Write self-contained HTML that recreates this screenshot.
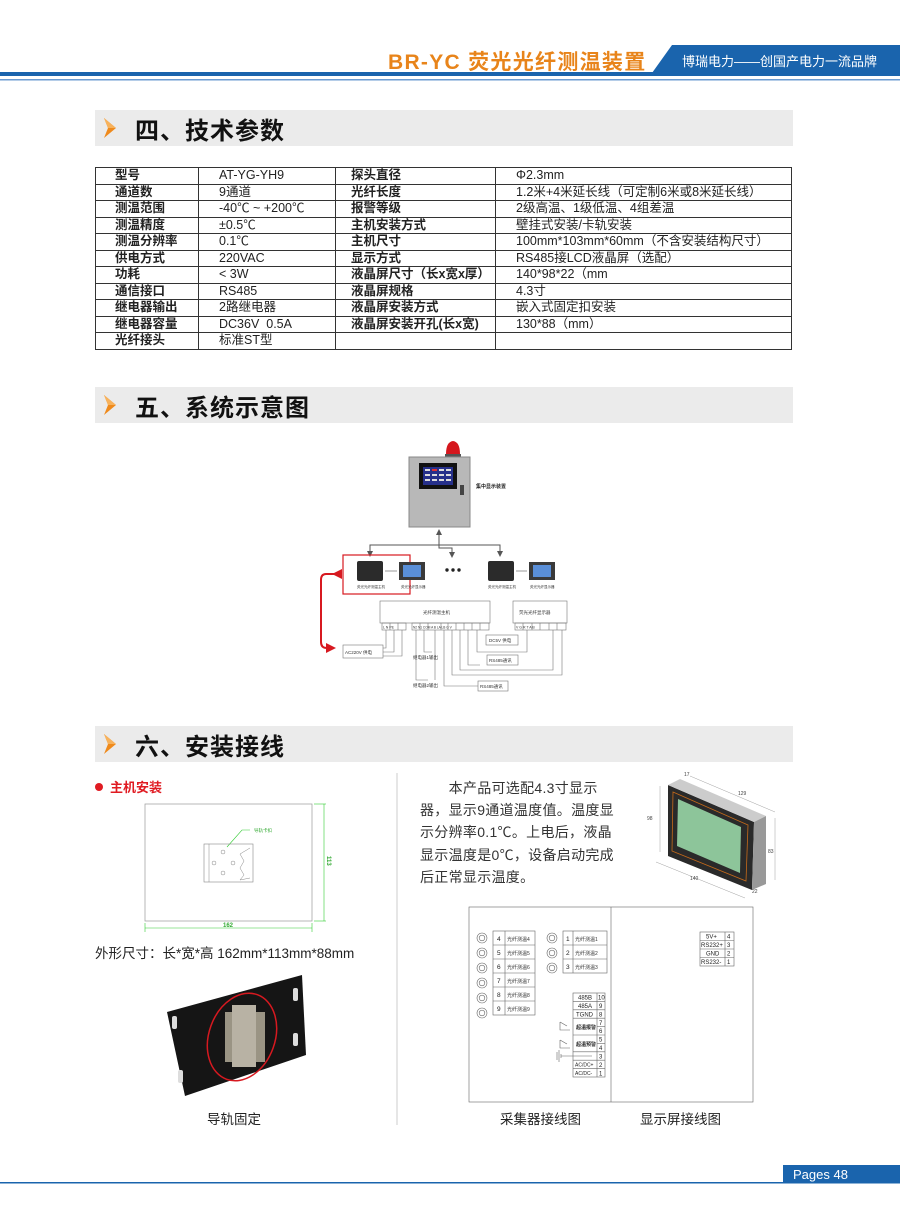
<!DOCTYPE html>
<html><head><meta charset="utf-8"><style>
*{margin:0;padding:0;box-sizing:border-box}
body{width:900px;height:1230px;background:#fff;position:relative;overflow:hidden;font-family:"Liberation Sans","Noto Sans CJK SC",sans-serif;color:#222}
.a{position:absolute;white-space:nowrap}
.bar{position:absolute;left:95px;width:698px;height:36px;background:#ebebeb}
.bar .t{position:absolute;left:40px;top:1px;font-size:24px;font-weight:bold;color:#111;font-family:"Noto Sans CJK SC",sans-serif;letter-spacing:1px}
table{position:absolute;left:95px;top:167px;width:697px;border-collapse:collapse;font-size:12.5px;table-layout:fixed}
td{border:1px solid #333;height:16.5px;padding:0 0 0 20px;color:#222;vertical-align:middle;overflow:hidden;white-space:nowrap}
td div{height:15px;line-height:15px;overflow:hidden}
td.b{font-weight:bold;padding-left:19px}
td.c{font-weight:bold;padding-left:15px}
.p{font-size:14px;color:#333;line-height:22.2px}
</style></head><body>

<div class="a" style="left:388px;top:46px;font-size:21px;font-weight:bold;color:#e8841a;letter-spacing:1.3px;font-family:'Liberation Sans','Noto Sans CJK SC',sans-serif">BR-YC 荧光光纤测温装置</div>
<svg class="a" style="left:0;top:0" width="900" height="90">
<polygon points="672,45 900,45 900,73 652,73" fill="#1a64ad"/>
<rect x="0" y="72" width="900" height="4" fill="#1a64ad"/>
<rect x="0" y="79" width="900" height="1.5" fill="#6b9bd1"/>
</svg>
<div class="a" style="left:682px;top:51px;font-size:13px;color:#fff">博瑞电力——创国产电力一流品牌</div>

<div class="bar" style="top:110px"><svg class="a" style="left:7px;top:7px" width="16" height="22"><polygon points="2,1 14,11 2,21 6,11" fill="#ef8a1c"/><polygon points="2,1 14,11 6,11" fill="#f7b25c"/></svg><div class="t">四、技术参数</div></div>
<div class="bar" style="top:387px"><svg class="a" style="left:7px;top:7px" width="16" height="22"><polygon points="2,1 14,11 2,21 6,11" fill="#ef8a1c"/><polygon points="2,1 14,11 6,11" fill="#f7b25c"/></svg><div class="t">五、系统示意图</div></div>
<div class="bar" style="top:726px"><svg class="a" style="left:7px;top:7px" width="16" height="22"><polygon points="2,1 14,11 2,21 6,11" fill="#ef8a1c"/><polygon points="2,1 14,11 6,11" fill="#f7b25c"/></svg><div class="t">六、安装接线</div></div>

<table>
<colgroup><col style="width:103px"><col style="width:137px"><col style="width:160px"><col></colgroup>
<tr><td class="b"><div>型号</div></td><td><div>AT-YG-YH9</div></td><td class="c"><div>探头直径</div></td><td><div>Φ2.3mm</div></td></tr>
<tr><td class="b"><div>通道数</div></td><td><div>9通道</div></td><td class="c"><div>光纤长度</div></td><td><div>1.2米+4米延长线（可定制6米或8米延长线）</div></td></tr>
<tr><td class="b"><div>测温范围</div></td><td><div>-40℃ ~ +200℃</div></td><td class="c"><div>报警等级</div></td><td><div>2级高温、1级低温、4组差温</div></td></tr>
<tr><td class="b"><div>测温精度</div></td><td><div>±0.5℃</div></td><td class="c"><div>主机安装方式</div></td><td><div>壁挂式安装/卡轨安装</div></td></tr>
<tr><td class="b"><div>测温分辨率</div></td><td><div>0.1℃</div></td><td class="c"><div>主机尺寸</div></td><td><div>100mm*103mm*60mm（不含安装结构尺寸）</div></td></tr>
<tr><td class="b"><div>供电方式</div></td><td><div>220VAC</div></td><td class="c"><div>显示方式</div></td><td><div>RS485接LCD液晶屏（选配）</div></td></tr>
<tr><td class="b"><div>功耗</div></td><td><div>&lt; 3W</div></td><td class="c"><div>液晶屏尺寸（长x宽x厚）</div></td><td><div>140*98*22（mm</div></td></tr>
<tr><td class="b"><div>通信接口</div></td><td><div>RS485</div></td><td class="c"><div>液晶屏规格</div></td><td><div>4.3寸</div></td></tr>
<tr><td class="b"><div>继电器输出</div></td><td><div>2路继电器</div></td><td class="c"><div>液晶屏安装方式</div></td><td><div>嵌入式固定扣安装</div></td></tr>
<tr><td class="b"><div>继电器容量</div></td><td><div>DC36V&nbsp; 0.5A</div></td><td class="c"><div>液晶屏安装开孔(长x宽)</div></td><td><div>130*88（mm）</div></td></tr>
<tr><td class="b"><div>光纤接头</div></td><td><div>标准ST型</div></td><td><div></div></td><td><div></div></td></tr>
</table>

<svg class="a" style="left:0;top:0" width="900" height="1230" font-family="Liberation Sans,Noto Sans CJK SC,sans-serif">
<defs><marker id="ar" markerWidth="6" markerHeight="6" refX="5" refY="3" orient="auto"><path d="M0,0 L6,3 L0,6z" fill="#555"/></marker>
<marker id="rr" markerWidth="5" markerHeight="5" refX="4" refY="2.5" orient="auto"><path d="M0,0 L5,2.5 L0,5z" fill="#d71920"/></marker></defs>
<rect x="445" y="454" width="16" height="5" fill="#555"/>
<path d="M446,454 Q446,442 453,441 Q460,442 460,454z" fill="#d5171d"/>
<rect x="409" y="457" width="61" height="70" fill="#b8b8b8" stroke="#888"/>
<rect x="419" y="463" width="38" height="26" fill="#111"/>
<rect x="423" y="467" width="30" height="18" fill="#26308a"/>
<g fill="#ddd"><rect x="425" y="469" width="5" height="2"/><rect x="432" y="469" width="5" height="2" fill="#d33"/><rect x="439" y="469" width="5" height="2"/><rect x="446" y="469" width="5" height="2"/>
<rect x="425" y="474" width="5" height="2"/><rect x="432" y="474" width="5" height="2"/><rect x="439" y="474" width="5" height="2"/><rect x="446" y="474" width="5" height="2"/>
<rect x="425" y="479" width="5" height="2"/><rect x="432" y="479" width="5" height="2"/><rect x="439" y="479" width="5" height="2"/><rect x="446" y="479" width="5" height="2"/></g>
<rect x="460" y="485" width="4" height="10" fill="#444"/>
<text x="476" y="488" font-size="5" font-weight="bold" fill="#222">集中显示装置</text>
<g stroke="#555" stroke-width="1" fill="none">
<line x1="439" y1="540" x2="439" y2="530" marker-end="url(#ar)"/>
<polyline points="439,540 439,545 370,545 370,556" marker-end="url(#ar)"/>
<polyline points="439,545 500,545 500,556" marker-end="url(#ar)"/>
<polyline points="439,545 439,548 452,548 452,557" marker-end="url(#ar)"/>
</g>
<rect x="343" y="555" width="67" height="39" fill="none" stroke="#d71920" stroke-width="1.2"/>
<rect x="357" y="561" width="26" height="20" fill="#2b2b2b" rx="2"/>
<rect x="399" y="562" width="26" height="18" fill="#3a3a3a"/><rect x="403" y="565" width="18" height="12" fill="#5a8fd8"/>
<rect x="488" y="561" width="26" height="20" fill="#2b2b2b" rx="2"/>
<rect x="529" y="562" width="26" height="18" fill="#3a3a3a"/><rect x="533" y="565" width="18" height="12" fill="#5a8fd8"/>
<line x1="385" y1="571" x2="397" y2="571" stroke="#555" stroke-width="0.6"/><line x1="516" y1="571" x2="527" y2="571" stroke="#555" stroke-width="0.6"/>
<circle cx="447" cy="570" r="1.7" fill="#222"/><circle cx="453" cy="570" r="1.7" fill="#222"/><circle cx="459" cy="570" r="1.7" fill="#222"/>
<g font-size="3.5" fill="#333"><text x="357" y="588">荧光光纤测温主机</text><text x="401" y="588">荧光光纤显示器</text><text x="488" y="588">荧光光纤测温主机</text><text x="530" y="588">荧光光纤显示器</text></g>
<path d="M334,574 L326,574 Q321,574 321,580 L321,642 Q321,648 327,648 L334,648" fill="none" stroke="#d71920" stroke-width="2" marker-start="url(#rr)" marker-end="url(#rr)"/>
<g stroke="#777" stroke-width="0.6" fill="none">
<rect x="380" y="601" width="110" height="22"/>
<rect x="513" y="601" width="54" height="22"/>
<rect x="382" y="623" width="24" height="7"/><line x1="390" y1="623" x2="390" y2="630"/><line x1="398" y1="623" x2="398" y2="630"/>
<rect x="412" y="623" width="77" height="7"/>
<line x1="420" y1="623" x2="420" y2="630"/><line x1="428" y1="623" x2="428" y2="630"/><line x1="441" y1="623" x2="441" y2="630"/><line x1="448" y1="623" x2="448" y2="630"/><line x1="456" y1="623" x2="456" y2="630"/><line x1="464" y1="623" x2="464" y2="630"/><line x1="472" y1="623" x2="472" y2="630"/><line x1="480" y1="623" x2="480" y2="630"/>
<rect x="515" y="623" width="51" height="7"/>
<line x1="523" y1="623" x2="523" y2="630"/><line x1="532" y1="623" x2="532" y2="630"/><line x1="540" y1="623" x2="540" y2="630"/><line x1="549" y1="623" x2="549" y2="630"/><line x1="557" y1="623" x2="557" y2="630"/>
<rect x="343" y="645" width="40" height="13"/>
<polyline points="386,630 386,648 383,648"/><polyline points="394,630 394,652 383,652"/><polyline points="402,630 402,656 383,656"/>
<rect x="486" y="635" width="32" height="10"/><polyline points="477,630 477,652 527,652 527,630"/>
<rect x="487" y="655" width="31" height="10"/><polyline points="468,630 468,665 480,665"/><polyline points="460,630 460,670 553,670 553,630"/>
<polyline points="452,630 452,675 562,675 562,630"/>
<rect x="478" y="681" width="30" height="10"/><polyline points="444,630 444,686 478,686"/>
<polyline points="416,630 416,680 428,680"/><polyline points="424,630 424,652 432,652"/><polyline points="435,630 435,680"/>
</g>
<g font-size="4.5" fill="#333">
<text x="423" y="614">光纤测温主机</text><text x="519" y="614">荧光光纤显示器</text>
<text x="383" y="628.5" font-size="3.5">L  N  PE</text><text x="413" y="628.5" font-size="3.2">N2 N1 COM A  B  LA LB G  V</text>
<text x="516" y="628.5" font-size="3.5">V  G  R  T  A  B</text>
<text x="345" y="654">AC220V 供电</text><text x="489" y="642">DC5V 供电</text><text x="489" y="662">RS485通讯</text><text x="480" y="688">RS485通讯</text>
<text x="413" y="659">继电器1输出</text><text x="413" y="687">继电器2输出</text>
</g>

<circle cx="99" cy="787" r="4" fill="#e01b22"/>
<text x="110" y="792" font-size="13" font-weight="bold" fill="#e01b22">主机安装</text>
<rect x="145" y="804" width="167" height="117" fill="none" stroke="#999" stroke-width="0.7"/>
<g stroke="#3c3" stroke-width="0.6" fill="none"><line x1="314" y1="804" x2="326" y2="804"/><line x1="314" y1="921" x2="326" y2="921"/><line x1="324" y1="804" x2="324" y2="921"/><line x1="145" y1="928" x2="312" y2="928"/><line x1="145" y1="923" x2="145" y2="932"/><line x1="312" y1="923" x2="312" y2="932"/><polyline points="227,847 242,830 250,830"/></g>
<text x="223" y="927" font-size="6" font-weight="bold" fill="#3a3">162</text>
<text x="327" y="856" font-size="6" font-weight="bold" fill="#3a3" transform="rotate(90 327 856)">113</text>
<text x="254" y="832" font-size="4.5" fill="#3a3">导轨卡扣</text>
<rect x="204" y="844" width="49" height="38" fill="none" stroke="#888" stroke-width="0.6"/>
<line x1="209" y1="844" x2="209" y2="882" stroke="#888" stroke-width="0.5"/>
<g fill="none" stroke="#888" stroke-width="0.5"><circle cx="223" cy="852" r="2"/><circle cx="214" cy="863" r="2"/><circle cx="233" cy="863" r="2"/><circle cx="223" cy="873" r="2"/><polyline points="250,848 240,854 244,861 240,868 244,875 240,880 250,878"/></g>
<text x="95" y="958" font-size="13.5" fill="#222">外形尺寸：长*宽*高 162mm*113mm*88mm</text>
<line x1="397" y1="773" x2="397" y2="1125" stroke="#ccc" stroke-width="1"/>
<polygon points="167,1012 302,975 306,1055 185,1096" fill="#151515"/>
<g fill="#ddd"><rect x="172" y="1016" width="5" height="13" rx="2"/><rect x="293" y="988" width="5" height="13" rx="2"/><rect x="293" y="1033" width="5" height="13" rx="2"/><rect x="178" y="1070" width="5" height="13" rx="2"/></g>
<rect x="225" y="1012" width="40" height="50" fill="#9a9484"/>
<rect x="232" y="1005" width="24" height="62" fill="#b8b2a4"/>
<ellipse cx="242" cy="1037" rx="33" ry="45" transform="rotate(20 242 1037)" fill="none" stroke="#d71920" stroke-width="1.5"/>
<text x="207" y="1124" font-size="13.5" fill="#222">导轨固定</text>

<polygon points="668,785 754,822 752,890 668,856" fill="#2a2a2a"/>
<polygon points="668,785 680,779 766,816 754,822" fill="#ccc"/>
<polygon points="754,822 766,816 766,884 752,890" fill="#999"/>
<polygon points="673,792 748,825 746,881 672,851" fill="none" stroke="#c66a1a" stroke-width="0.8"/>
<polygon points="678,799 741,827 740,873 677,846" fill="#8dc59a"/>
<g stroke="#888" stroke-width="0.4" fill="none"><line x1="660" y1="786" x2="660" y2="852"/><line x1="656" y1="862" x2="745" y2="898"/><line x1="690" y1="776" x2="775" y2="812"/><line x1="775" y1="818" x2="775" y2="880"/></g>
<g font-size="5" fill="#444"><text x="647" y="820">98</text><text x="690" y="880">140</text><text x="738" y="795">129</text><text x="684" y="776">17</text><text x="768" y="853">83</text><text x="752" y="893">22</text></g>

<g stroke="#666" stroke-width="0.6" fill="none">
<rect x="469" y="907" width="284" height="195"/><line x1="611" y1="907" x2="611" y2="1102"/>
<rect x="493" y="931" width="42" height="84"/><line x1="505" y1="931" x2="505" y2="1015"/>
<line x1="493" y1="945" x2="535" y2="945"/><line x1="493" y1="959" x2="535" y2="959"/><line x1="493" y1="973" x2="535" y2="973"/><line x1="493" y1="987" x2="535" y2="987"/><line x1="493" y1="1001" x2="535" y2="1001"/>
<rect x="563" y="931" width="44" height="42"/><line x1="573" y1="931" x2="573" y2="973"/><line x1="563" y1="945" x2="607" y2="945"/><line x1="563" y1="959" x2="607" y2="959"/>
<circle cx="482" cy="938" r="5"/><circle cx="482" cy="938" r="2.8"/>
<circle cx="482" cy="953" r="5"/><circle cx="482" cy="953" r="2.8"/>
<circle cx="482" cy="968" r="5"/><circle cx="482" cy="968" r="2.8"/>
<circle cx="482" cy="983" r="5"/><circle cx="482" cy="983" r="2.8"/>
<circle cx="482" cy="998" r="5"/><circle cx="482" cy="998" r="2.8"/>
<circle cx="482" cy="1013" r="5"/><circle cx="482" cy="1013" r="2.8"/>
<circle cx="552" cy="938" r="5"/><circle cx="552" cy="938" r="2.8"/>
<circle cx="552" cy="953" r="5"/><circle cx="552" cy="953" r="2.8"/>
<circle cx="552" cy="968" r="5"/><circle cx="552" cy="968" r="2.8"/>
<rect x="573" y="993" width="32" height="84"/><line x1="597" y1="993" x2="597" y2="1077"/>
<line x1="573" y1="1001.4" x2="605" y2="1001.4"/><line x1="573" y1="1009.8" x2="605" y2="1009.8"/><line x1="573" y1="1018.2" x2="605" y2="1018.2"/><line x1="597" y1="1026.6" x2="605" y2="1026.6"/><line x1="573" y1="1035" x2="605" y2="1035"/><line x1="597" y1="1043.4" x2="605" y2="1043.4"/><line x1="573" y1="1051.8" x2="605" y2="1051.8"/><line x1="573" y1="1060.2" x2="605" y2="1060.2"/><line x1="573" y1="1068.6" x2="605" y2="1068.6"/>
<polyline points="560,1022 560,1030 570,1030"/><line x1="560" y1="1022" x2="567" y2="1026"/>
<polyline points="560,1040 560,1048 570,1048"/><line x1="560" y1="1040" x2="567" y2="1044"/>
<line x1="557" y1="1052" x2="557" y2="1060"/><line x1="559" y1="1050" x2="559" y2="1062"/><line x1="561" y1="1054" x2="561" y2="1058"/><line x1="561" y1="1056" x2="592" y2="1056"/>
<rect x="700" y="932" width="34" height="34"/><line x1="725" y1="932" x2="725" y2="966"/><line x1="700" y1="940.5" x2="734" y2="940.5"/><line x1="700" y1="949" x2="734" y2="949"/><line x1="700" y1="957.5" x2="734" y2="957.5"/>
</g>
<g font-size="6.5" fill="#222">
<text x="497" y="941">4</text><text x="497" y="955">5</text><text x="497" y="969">6</text><text x="497" y="983">7</text><text x="497" y="997">8</text><text x="497" y="1011">9</text>
<text x="566" y="941">1</text><text x="566" y="955">2</text><text x="566" y="969">3</text>
</g>
<g font-size="5" fill="#333">
<text x="507" y="941">光纤测温4</text><text x="507" y="955">光纤测温5</text><text x="507" y="969">光纤测温6</text><text x="507" y="983">光纤测温7</text><text x="507" y="997">光纤测温8</text><text x="507" y="1011">光纤测温9</text>
<text x="575" y="941">光纤测温1</text><text x="575" y="955">光纤测温2</text><text x="575" y="969">光纤测温3</text>
</g>
<g font-size="6" fill="#222">
<text x="578" y="999.5">485B</text><text x="578" y="1008">485A</text><text x="576" y="1016.5">TGND</text>
<text x="576" y="1029" font-size="5" font-weight="bold">超温报警</text><text x="576" y="1046" font-size="5" font-weight="bold">超温预警</text>
<text x="575" y="1066.5" font-size="5">AC/DC+</text><text x="575" y="1075" font-size="5">AC/DC-</text>
<text x="598" y="999.5">10</text><text x="599" y="1008">9</text><text x="599" y="1016.5">8</text><text x="599" y="1025">7</text><text x="599" y="1033">6</text><text x="599" y="1041.5">5</text><text x="599" y="1050">4</text><text x="599" y="1058.5">3</text><text x="599" y="1067">2</text><text x="599" y="1075.5">1</text>
<text x="706" y="938.5">5V+</text><text x="701" y="947">RS232+</text><text x="706" y="955.5">GND</text><text x="701" y="964">RS232-</text>
<text x="727" y="938.5">4</text><text x="727" y="947">3</text><text x="727" y="955.5">2</text><text x="727" y="964">1</text>
</g>
<text x="500" y="1124" font-size="13.5" fill="#222">采集器接线图</text>
<text x="640" y="1124" font-size="13.5" fill="#222">显示屏接线图</text>

<rect x="0" y="1182" width="900" height="1.5" fill="#1a64ad"/>
<rect x="783" y="1165" width="117" height="18" fill="#1a64ad"/>
<text x="793" y="1179" font-size="13" fill="#fff">Pages 48</text>
</svg>

<div class="a p" style="left:420px;top:777px;width:200px;white-space:normal;letter-spacing:0.3px">　　本产品可选配4.3寸显示器，显示9通道温度值。温度显示分辨率0.1℃。上电后，液晶显示温度是0℃，设备启动完成后正常显示温度。</div>
</body></html>
